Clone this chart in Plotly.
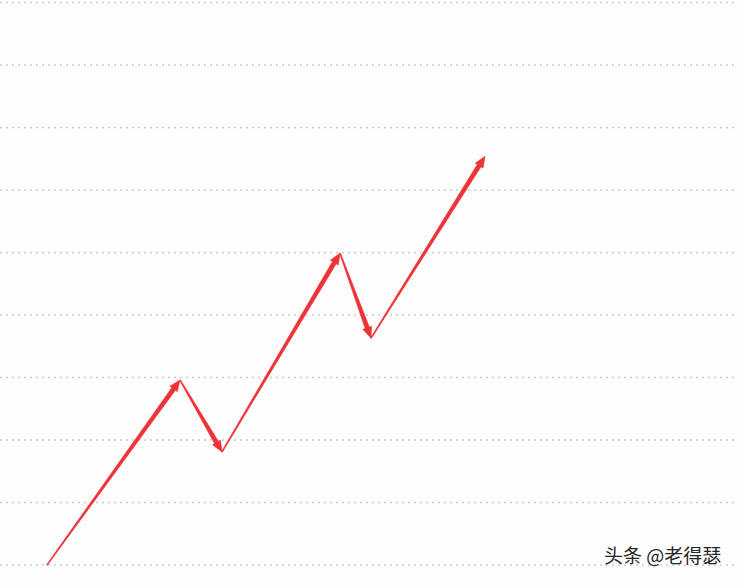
import numpy as np
import plotly.graph_objects as go

# turning points of the zig-zag trend
x_vals = [47, 180, 222, 340, 371, 485]
y_vals = [1.0, 3.96, 2.81, 5.99, 4.63, 7.54]
grid_vals = list(range(1, 11))
watermark = "头条 @老得瑟"

W, H = 738, 585
XR = [0, 738]
YR = [0.68, 10.04]
RED = "#EC3338"


def to_px(x, y):
    px = (x - XR[0]) / (XR[1] - XR[0]) * W
    py = H - (y - YR[0]) / (YR[1] - YR[0]) * H
    return np.array([px, py])


def to_data(p):
    x = XR[0] + p[0] / W * (XR[1] - XR[0])
    y = YR[0] + (H - p[1]) / H * (YR[1] - YR[0])
    return x, y


def arrow_poly(p0, p1, w0=0.5, w1=2.2, hl=11, hw=4.6):
    # tapered shaft + arrowhead, built in pixel space then mapped back
    d = (p1 - p0) / np.linalg.norm(p1 - p0)
    n = np.array([-d[1], d[0]])
    b = p1 - d * hl
    pts = [p0 + n * w0, b + n * w1, b + n * hw, p1,
           b - n * hw, b - n * w1, p0 - n * w0, p0 + n * w0]
    xs, ys = zip(*[to_data(p) for p in pts])
    return list(xs), list(ys)


fig = go.Figure()

# dotted horizontal guide lines, drawn as line traces
for g in grid_vals:
    fig.add_trace(go.Scatter(x=XR, y=[g, g], mode="lines",
                             line=dict(color="#cdcdcd", width=1.6, dash="2px,4px"),
                             hoverinfo="skip", showlegend=False))

for i in range(len(x_vals) - 1):
    p0 = to_px(x_vals[i], y_vals[i])
    p1 = to_px(x_vals[i + 1], y_vals[i + 1])
    xs, ys = arrow_poly(p0, p1)
    fig.add_trace(go.Scatter(x=xs, y=ys, fill="toself", fillcolor=RED,
                             mode="lines", line=dict(color=RED, width=0.6),
                             hoverinfo="skip", showlegend=False))

fig.add_annotation(text=watermark, x=1, y=0, xref="paper", yref="paper",
                   xanchor="right", yanchor="bottom", xshift=-15, yshift=15,
                   showarrow=False,
                   font=dict(family="Noto Sans CJK SC", size=19, color="#262626"))

fig.update_layout(
    width=W, height=H,
    margin=dict(l=0, r=0, t=0, b=0),
    paper_bgcolor="#fdfdfd", plot_bgcolor="#fdfdfd",
    xaxis=dict(range=XR, showgrid=False, zeroline=False, showticklabels=False,
               fixedrange=True),
    yaxis=dict(range=YR, showgrid=False, zeroline=False,
               showticklabels=False, fixedrange=True),
)

fig.write_html("out.html", config={"displayModeBar": False},
               post_script="document.body.style.margin='0';"
                           "document.body.style.overflow='hidden';")
